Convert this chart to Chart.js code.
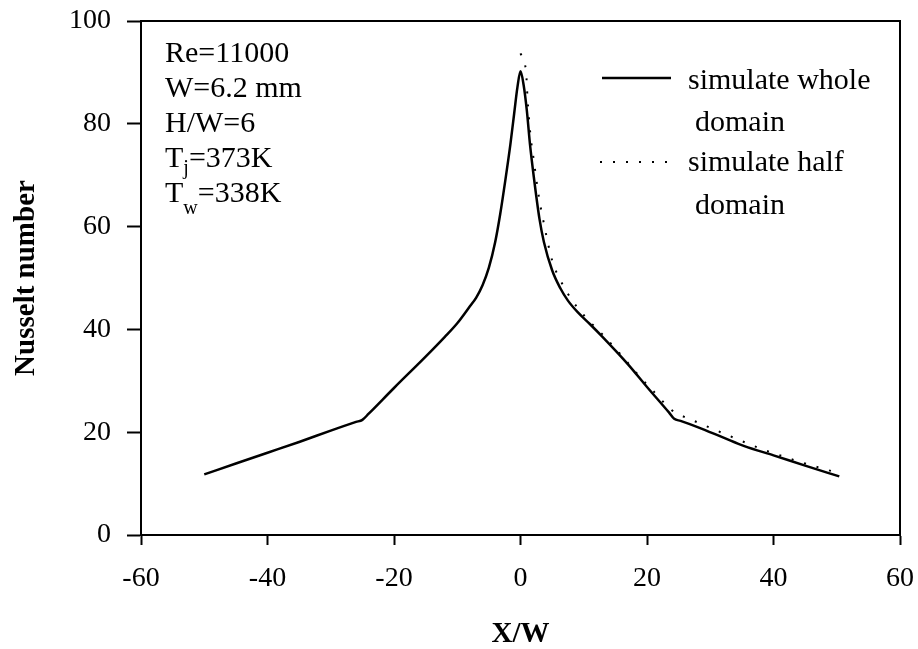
<!DOCTYPE html>
<html>
<head>
<meta charset="utf-8">
<script src="https://cdn.jsdelivr.net/npm/chart.js@4.4.1/dist/chart.umd.min.js"></script>
<style>
    html, body { margin: 0; padding: 0; background: #fff; }
    #wrap { width: 918px; height: 649px; }
</style>
</head>
<body>
<div id="wrap"><canvas id="chart"></canvas></div>
<script>
(function () {
    "use strict";

    // data
    const xWhole = [-50, -45, -40, -35, -30, -26, -25, -24, -20, -15, -12, -10, -8, -7, -6, -5, -4, -3.2, -2.4, -1.6, -1, -0.5, 0,
        0.5, 1, 1.5, 2.1, 3, 3.7, 5, 6.3, 7.5, 9, 11, 13, 17, 20, 23.5, 24.3, 25.3, 28, 32, 35.4, 40, 45, 50.4];
    const nuWhole = [11.8, 13.9, 16.0, 18.1, 20.3, 22.0, 22.4, 23.6, 28.6, 34.7, 38.5, 41.2, 44.5, 46.2, 48.6, 52, 57, 62.5, 69, 76, 82, 87, 90.2,
        87.5, 82.6, 76, 69.7, 61.5, 57, 51.5, 48, 45.6, 43.4, 41, 38.5, 33.2, 28.8, 23.8, 22.6, 22.2, 21.0, 19.0, 17.3, 15.5, 13.5, 11.4];

    const xHalf = [0, 0.6, 0.9, 1.1, 1.55, 2.1, 2.9, 3.7, 5, 6.3, 8.2, 10.5, 13.2, 16, 18.7, 21, 24, 25, 28, 33, 38, 44, 50.4];
    const nuHalf = [93.7, 92, 89.8, 85.2, 78.1, 72.9, 65.8, 60.6, 53.4, 49.6, 45.6, 42.1, 38.7, 34.9, 31, 28, 24.2,
        23.5, 21.9, 19.3, 16.8, 14.3, 12.0];

    const seriesNames = [["simulate whole", "domain"], ["simulate half", "domain"]];
    const notes = ["Re=11000", "W=6.2 mm", "H/W=6", ["T", "j", "=373K"], ["T", "w", "=338K"]];

    const serif = "'Liberation Serif', 'Times New Roman', serif";

    const toPoints = (xs, ys) => xs.map((x, i) => ({ x: x, y: ys[i] }));

    // keep the plot box where the reference has it
    const noScalePadding = (scale) => {
        scale.paddingTop = 0;
        scale.paddingBottom = 0;
        scale.paddingLeft = 0;
        scale.paddingRight = 0;
    };

    // frame, notes and legend
    const extras = {
        id: "extras",
        afterDraw(chart) {
            const ctx = chart.ctx;
            const a = chart.chartArea;
            ctx.save();
            ctx.strokeStyle = "#000";
            ctx.lineWidth = 2;
            ctx.beginPath();
            ctx.moveTo(a.left, a.top);
            ctx.lineTo(a.right, a.top);
            ctx.lineTo(a.right, a.bottom);
            ctx.stroke();

            ctx.fillStyle = "#000";
            ctx.textBaseline = "alphabetic";
            ctx.textAlign = "left";
            let y = 62;
            notes.forEach((n) => {
                const x = 165;
                if (Array.isArray(n)) {
                    ctx.font = "30px " + serif;
                    ctx.fillText(n[0], x, y);
                    const w0 = ctx.measureText(n[0]).width;
                    ctx.font = "20px " + serif;
                    ctx.fillText(n[1], x + w0, y + (n[1] === "w" ? 12 : 7));
                    const w1 = ctx.measureText(n[1]).width;
                    ctx.font = "30px " + serif;
                    ctx.fillText(n[2], x + w0 + w1, y);
                } else {
                    ctx.font = "30px " + serif;
                    ctx.fillText(n, x, y);
                }
                y += 35;
            });

            // legend
            ctx.font = "30px " + serif;
            ctx.lineWidth = 2.5;
            ctx.beginPath();
            ctx.moveTo(602, 78);
            ctx.lineTo(671, 78);
            ctx.stroke();
            ctx.fillText(seriesNames[0][0], 688, 89);
            ctx.fillText(seriesNames[0][1], 695, 131);

            ctx.lineWidth = 2;
            ctx.setLineDash([2, 11]);
            ctx.beginPath();
            ctx.moveTo(600, 162);
            ctx.lineTo(672, 162);
            ctx.stroke();
            ctx.setLineDash([]);
            ctx.fillText(seriesNames[1][0], 688, 171);
            ctx.fillText(seriesNames[1][1], 695, 214);
            ctx.restore();
        },
    };

    new Chart(document.getElementById("chart"), {
        type: "scatter",
        data: {
            datasets: [
                {
                    label: seriesNames[0].join(" "),
                    data: toPoints(xWhole, nuWhole),
                    showLine: true,
                    borderColor: "#000",
                    borderWidth: 2.5,
                    pointRadius: 0,
                    cubicInterpolationMode: "monotone",
                },
                {
                    label: seriesNames[1].join(" "),
                    data: toPoints(xHalf, nuHalf),
                    showLine: true,
                    borderColor: "#000",
                    borderWidth: 2,
                    borderDash: [2, 11],
                    borderCapStyle: "butt",
                    pointRadius: 0,
                    cubicInterpolationMode: "monotone",
                },
            ],
        },
        options: {
            responsive: true,
            maintainAspectRatio: false,
            animation: false,
            layout: {
                padding: { top: 21, right: 18, left: 0, bottom: 0 },
            },
            plugins: {
                legend: { display: false },
                tooltip: { enabled: false },
            },
            scales: {
                x: {
                    type: "linear",
                    min: -60,
                    max: 60,
                    ticks: {
                        stepSize: 20,
                        color: "#000",
                        padding: 17,
                        font: { family: serif, size: 28 },
                    },
                    grid: {
                        drawOnChartArea: false,
                        drawTicks: true,
                        tickLength: 10,
                        tickWidth: 2,
                        color: "#000",
                    },
                    border: { display: true, color: "#000", width: 2 },
                    title: {
                        display: true,
                        text: "X/W",
                        color: "#000",
                        padding: 0,
                        font: { family: serif, size: 29, weight: "bold", lineHeight: 1 },
                    },
                    afterFit: (scale) => {
                        scale.height = 114;
                        noScalePadding(scale);
                    },
                },
                y: {
                    min: 0,
                    max: 100,
                    ticks: {
                        stepSize: 20,
                        color: "#000",
                        padding: 16,
                        font: { family: serif, size: 28 },
                    },
                    grid: {
                        drawOnChartArea: false,
                        drawTicks: true,
                        tickLength: 14,
                        tickWidth: 2,
                        color: "#000",
                    },
                    border: { display: true, color: "#000", width: 2 },
                    title: {
                        display: true,
                        text: "Nusselt number",
                        color: "#000",
                        padding: { top: 12, bottom: 0 },
                        font: { family: serif, size: 29, weight: "bold", lineHeight: 1 },
                    },
                    afterFit: (scale) => {
                        scale.width = 141;
                        noScalePadding(scale);
                    },
                },
            },
        },
        plugins: [extras],
    });
})();
</script>
</body>
</html>
